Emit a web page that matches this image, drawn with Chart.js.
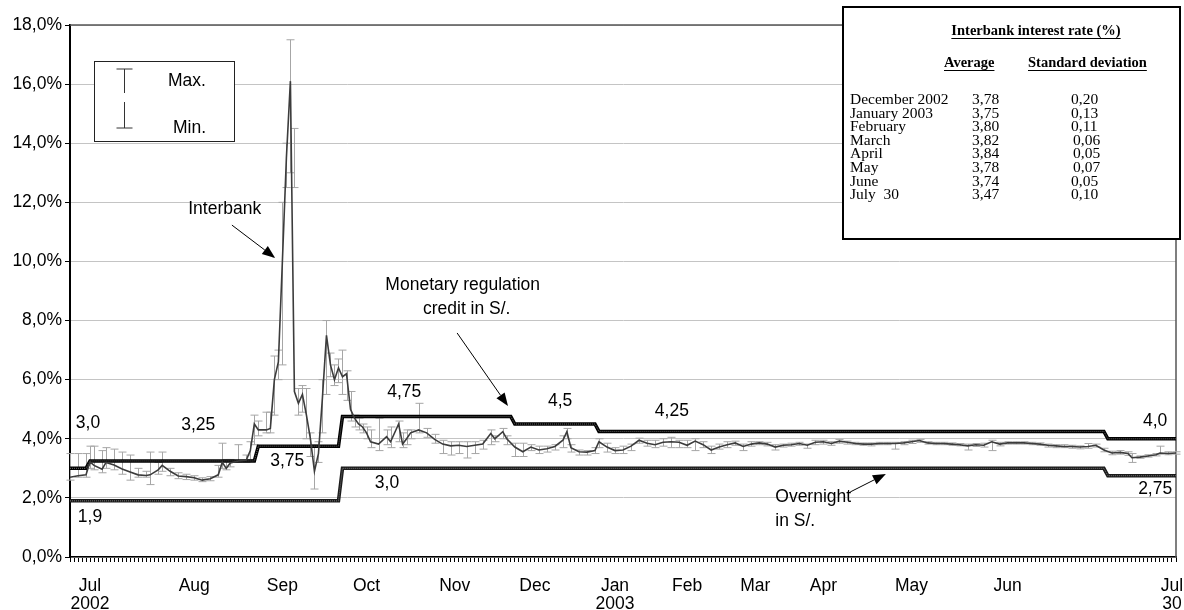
<!DOCTYPE html>
<html>
<head>
<meta charset="utf-8">
<script src="https://cdn.jsdelivr.net/npm/chart.js@4.4.0/dist/chart.umd.min.js"></script>
<style>
  html, body { margin: 0; padding: 0; background: #fff; }
</style>
</head>
<body>
<canvas id="rateChart" width="1184" height="610"></canvas>
<script>
// x axis = business-day index (0 .. lastIdx)
const lastIdx = 276;
const monthIdx = [5, 31, 53, 74, 96, 116, 136, 154, 171, 188, 210, 234, 275];
const monthLabels = [['Jul', '2002'], ['Aug'], ['Sep'], ['Oct'], ['Nov'], ['Dec'], ['Jan', '2003'], ['Feb'], ['Mar'], ['Apr'], ['May'], ['Jun'], ['Jul', '30']];
const yTicks = [0, 2, 4, 6, 8, 10, 12, 14, 16, 18];

// Interbank rate: day index, average, max, min (%)
const ibIdx = [0, 2, 4, 5, 6, 8, 9, 11, 13, 15, 17, 19, 20, 22, 23, 25, 27, 29, 31, 33, 35, 37, 38, 39, 40, 42, 44, 45, 46, 47, 49, 50,
  51, 52, 53, 54, 55, 56, 57, 58, 59, 60, 61, 62, 63, 64, 65, 66, 67, 68, 69, 70, 71, 72, 73, 74, 75, 77, 79, 80, 82, 83, 84, 85, 87, 89, 91, 93, 95, 97, 99,
  101, 103, 105, 106, 108, 109, 111, 113, 115, 117, 119, 121, 123, 124, 125, 127, 129, 131, 132, 134, 136, 138, 140, 142, 144, 146, 148, 150,
  152, 154, 156, 158, 160, 162, 164, 166, 168, 170, 172, 174, 176, 178, 180, 182, 184, 186, 188, 190, 192, 194, 196, 198, 200,
  202, 204, 206, 208, 210, 212, 214, 216, 218, 220, 222, 224, 226, 228, 230, 232, 234, 236, 238, 240, 242, 244, 246, 248, 250,
  252, 254, 256, 258, 260, 262, 264, 265, 267, 269, 271, 272, 274, 276];
const ibVal = [2.70, 2.75, 2.78, 3.22, 3.10, 2.97, 3.20, 3.11, 2.98, 2.88, 2.78, 2.76, 2.78, 2.95, 3.10, 2.90, 2.74, 2.72, 2.68, 2.60, 2.65, 2.78, 3.20, 3.00, 3.18, 3.25, 3.28, 3.60, 4.50, 4.30, 4.30, 4.35,
  6.00, 6.60, 10.0, 13.5, 16.1, 5.60, 5.20, 5.50, 4.80, 4.00, 2.90, 3.50, 5.40, 7.50, 6.50, 6.00, 6.40, 6.10, 6.20, 5.00, 4.70, 4.50, 4.40, 4.20, 3.90, 3.82, 4.07, 3.90, 4.50, 3.82, 4.00, 4.20, 4.30, 4.20, 3.98, 3.82, 3.76, 3.78, 3.74,
  3.78, 3.82, 4.18, 4.00, 4.24, 4.00, 3.72, 3.56, 3.72, 3.62, 3.66, 3.74, 3.95, 4.24, 3.70, 3.56, 3.55, 3.60, 3.90, 3.72, 3.60, 3.62, 3.75, 3.95, 3.85, 3.80, 3.88, 3.90,
  3.88, 3.78, 3.92, 3.80, 3.62, 3.72, 3.80, 3.86, 3.74, 3.82, 3.86, 3.82, 3.72, 3.78, 3.80, 3.84, 3.78, 3.88, 3.90, 3.84, 3.92, 3.88, 3.84, 3.82, 3.82,
  3.84, 3.84, 3.84, 3.86, 3.90, 3.94, 3.86, 3.84, 3.84, 3.82, 3.80, 3.76, 3.80, 3.78, 3.90, 3.82, 3.86, 3.86, 3.86, 3.84, 3.82, 3.78, 3.76, 3.74, 3.74,
  3.72, 3.74, 3.78, 3.62, 3.52, 3.54, 3.50, 3.36, 3.38, 3.42, 3.46, 3.52, 3.50, 3.52];
const ibMax = [3.50, 3.50, 3.50, 3.75, 3.75, 3.60, 3.70, 3.65, 3.55, 3.45, 3.00, 2.90, 3.55, 3.20, 3.55, 3.00, 2.85, 2.80, 2.75, 2.68, 2.72, 3.10, 3.85, 3.30, 3.30, 3.80, 3.45, 3.90, 4.80, 4.60, 4.90, 4.90,
  6.80, 7.00, 12.0, 14.0, 17.5, 14.5, 5.70, 5.80, 5.70, 4.20, 3.80, 3.90, 6.00, 8.00, 6.90, 6.50, 6.70, 7.00, 6.30, 5.60, 4.80, 4.70, 4.50, 4.40, 4.30, 4.70, 4.30, 4.40, 4.60, 4.20, 4.30, 4.30, 5.20, 4.35, 4.15, 3.95, 3.90, 3.90, 3.90,
  3.90, 3.95, 4.30, 4.10, 4.35, 4.10, 3.85, 3.85, 3.80, 3.75, 3.75, 3.80, 4.10, 4.35, 3.80, 3.62, 3.60, 3.70, 4.00, 3.85, 3.70, 3.75, 3.82, 4.02, 3.95, 3.95, 4.00, 4.05,
  3.95, 3.95, 4.00, 3.90, 3.75, 3.82, 3.90, 3.92, 3.82, 3.90, 3.90, 3.88, 3.80, 3.82, 3.85, 3.88, 3.82, 3.95, 3.95, 3.90, 3.98, 3.92, 3.88, 3.86, 3.86,
  3.88, 3.88, 3.88, 3.90, 3.95, 3.98, 3.90, 3.88, 3.88, 3.86, 3.84, 3.82, 3.84, 3.85, 3.95, 3.88, 3.90, 3.90, 3.90, 3.88, 3.86, 3.82, 3.80, 3.80, 3.78,
  3.76, 3.84, 3.82, 3.68, 3.58, 3.60, 3.56, 3.50, 3.42, 3.46, 3.50, 3.75, 3.56, 3.56];
const ibMin = [2.60, 2.70, 2.70, 3.00, 2.95, 2.85, 3.00, 2.95, 2.80, 2.60, 2.70, 2.70, 2.45, 2.80, 2.90, 2.75, 2.65, 2.62, 2.60, 2.55, 2.58, 2.70, 3.00, 2.95, 3.05, 3.20, 3.20, 3.30, 3.80, 4.10, 4.20, 4.20,
  4.80, 6.00, 6.50, 12.5, 13.0, 12.5, 4.80, 4.90, 4.00, 3.40, 2.30, 3.20, 4.20, 5.50, 6.10, 5.80, 5.90, 5.50, 5.30, 4.60, 4.40, 4.30, 4.20, 4.00, 3.70, 3.60, 3.80, 3.70, 3.90, 3.70, 3.80, 4.00, 4.20, 4.05, 3.85, 3.50, 3.45, 3.50, 3.35,
  3.50, 3.65, 3.80, 3.90, 4.00, 3.80, 3.40, 3.40, 3.60, 3.50, 3.55, 3.62, 3.70, 4.00, 3.55, 3.45, 3.45, 3.50, 3.70, 3.55, 3.50, 3.50, 3.60, 3.85, 3.75, 3.70, 3.75, 3.70,
  3.70, 3.70, 3.60, 3.70, 3.50, 3.65, 3.70, 3.78, 3.60, 3.75, 3.80, 3.76, 3.62, 3.72, 3.75, 3.78, 3.68, 3.80, 3.82, 3.78, 3.85, 3.82, 3.80, 3.78, 3.76,
  3.80, 3.80, 3.65, 3.80, 3.84, 3.88, 3.82, 3.80, 3.80, 3.78, 3.76, 3.62, 3.74, 3.72, 3.60, 3.76, 3.82, 3.82, 3.82, 3.80, 3.78, 3.72, 3.70, 3.70, 3.68,
  3.66, 3.68, 3.72, 3.56, 3.46, 3.48, 3.44, 3.20, 3.34, 3.38, 3.42, 3.48, 3.46, 3.48];

// Policy rates (step lines): start index of each level and the level (%)
const creditStart = [0, 5, 47, 68, 111, 132, 259];
const creditRate = [3.0, 3.25, 3.75, 4.75, 4.5, 4.25, 4.0];
const overnightStart = [0, 68, 259];
const overnightRate = [1.9, 3.0, 2.75];

// Summary table
const tableMonths = ['December 2002', 'January 2003', 'February', 'March', 'April', 'May', 'June', 'July  30'];
const tableAvg = ['3,78', '3,75', '3,80', '3,82', '3,84', '3,78', '3,74', '3,47'];
const tableSd = ['0,20', '0,13', '0,11', '0,06', '0,05', '0,07', '0,05', '0,10'];

const SANS = '"Liberation Sans", Arial, sans-serif';
const SERIF = '"Liberation Serif", "Times New Roman", serif';

function stepPoints(starts, rates) {
    const pts = [];
    starts.forEach((s, i) => {
        const end = i < starts.length - 1 ? starts[i + 1] - 1 : lastIdx;
        pts.push({ x: s, y: rates[i] });
        pts.push({ x: end, y: rates[i] });
    });
    return pts;
}

const creditPts = stepPoints(creditStart, creditRate);
const overnightPts = stepPoints(overnightStart, overnightRate);
const ibPts = ibIdx.map((d, i) => ({ x: d, y: ibVal[i] }));

// text labels placed in data coordinates (day index, %)
const notes = [
    { t: 'Interbank', x: 29.5, y: 11.77, align: 'left' },
    { t: 'Monetary regulation', x: 98, y: 9.2, align: 'center' },
    { t: 'credit in S/.', x: 99, y: 8.39, align: 'center' },
    { t: '3,0', x: 4.5, y: 4.53, align: 'center' },
    { t: '3,25', x: 32, y: 4.47, align: 'center' },
    { t: '1,9', x: 5, y: 1.35, align: 'center' },
    { t: '3,75', x: 54.2, y: 3.25, align: 'center' },
    { t: '4,75', x: 83.4, y: 5.58, align: 'center' },
    { t: '3,0', x: 79.1, y: 2.5, align: 'center' },
    { t: '4,5', x: 122.3, y: 5.28, align: 'center' },
    { t: '4,25', x: 150.2, y: 4.94, align: 'center' },
    { t: '4,0', x: 270.8, y: 4.6, align: 'center' },
    { t: '2,75', x: 270.8, y: 2.3, align: 'center' },
    { t: 'Overnight', x: 176, y: 2.03, align: 'left' },
    { t: 'in S/.', x: 176, y: 1.22, align: 'left' }
];
const arrows = [
    { x1: 40.4, y1: 11.23, x2: 51.2, y2: 10.12 },
    { x1: 96.6, y1: 7.58, x2: 109.3, y2: 5.11 },
    { x1: 194.7, y1: 2.2, x2: 203.6, y2: 2.81 }
];

const errorBars = {
    id: 'errorBars',
    beforeDatasetsDraw(chart) {
        const { ctx, chartArea, scales: { x, y } } = chart;
        ctx.save();
        // plot frame top / right
        ctx.strokeStyle = '#555';
        ctx.lineWidth = 1.5;
        ctx.beginPath();
        ctx.moveTo(chartArea.left, chartArea.top);
        ctx.lineTo(chartArea.right, chartArea.top);
        ctx.lineTo(chartArea.right, chartArea.bottom);
        ctx.stroke();

        ctx.strokeStyle = '#a6a6a6';
        ctx.lineWidth = 1;
        ibIdx.forEach((d, i) => {
            const px = Math.round(x.getPixelForValue(d)) + 0.5;
            const top = y.getPixelForValue(ibMax[i]);
            const bot = y.getPixelForValue(ibMin[i]);
            ctx.beginPath();
            ctx.moveTo(px, top); ctx.lineTo(px, bot);
            ctx.moveTo(px - 4, top); ctx.lineTo(px + 4, top);
            ctx.moveTo(px - 4, bot); ctx.lineTo(px + 4, bot);
            ctx.stroke();
        });
        ctx.restore();
    }
};

function drawArrow(ctx, x1, y1, x2, y2) {
    const ang = Math.atan2(y2 - y1, x2 - x1);
    const len = 13, half = 5;
    const bx = x2 - len * Math.cos(ang), by = y2 - len * Math.sin(ang);
    ctx.beginPath();
    ctx.moveTo(x1, y1);
    ctx.lineTo(bx, by);
    ctx.stroke();
    ctx.beginPath();
    ctx.moveTo(x2, y2);
    ctx.lineTo(bx + half * Math.sin(ang), by - half * Math.cos(ang));
    ctx.lineTo(bx - half * Math.sin(ang), by + half * Math.cos(ang));
    ctx.closePath();
    ctx.fill();
}

function underlined(ctx, text, x, y, align) {
    ctx.textAlign = align;
    ctx.fillText(text, x, y);
    const w = ctx.measureText(text).width;
    const x0 = align === 'center' ? x - w / 2 : x;
    ctx.fillRect(x0, y + 7, w, 1);
}

const overlay = {
    id: 'overlay',
    afterDraw(chart) {
        const { ctx, chartArea, scales: { x, y } } = chart;
        ctx.save();
        ctx.fillStyle = '#000';
        ctx.strokeStyle = '#000';
        ctx.lineWidth = 1;
        ctx.textBaseline = 'middle';
        ctx.font = '17.5px ' + SANS;
        notes.forEach(n => {
            ctx.textAlign = n.align;
            ctx.fillText(n.t, x.getPixelForValue(n.x), y.getPixelForValue(n.y));
        });
        arrows.forEach(a => drawArrow(ctx, x.getPixelForValue(a.x1), y.getPixelForValue(a.y1),
            x.getPixelForValue(a.x2), y.getPixelForValue(a.y2)));

        // Max / Min key box
        const lx = chartArea.left + 24, ty = chartArea.top + 36;
        ctx.fillStyle = '#fff';
        ctx.fillRect(lx, ty, 140, 80);
        ctx.strokeStyle = '#222';
        ctx.strokeRect(lx + 0.5, ty + 0.5, 140, 80);
        ctx.strokeStyle = '#333';
        ctx.beginPath();
        const sx = lx + 30.5;
        ctx.moveTo(sx - 8, ty + 8); ctx.lineTo(sx + 8, ty + 8);
        ctx.moveTo(sx, ty + 8); ctx.lineTo(sx, ty + 32);
        ctx.moveTo(sx, ty + 41); ctx.lineTo(sx, ty + 67);
        ctx.moveTo(sx - 8, ty + 67); ctx.lineTo(sx + 8, ty + 67);
        ctx.stroke();
        ctx.fillStyle = '#000';
        ctx.textAlign = 'left';
        ctx.fillText('Max.', lx + 74, ty + 20);
        ctx.fillText('Min.', lx + 79, ty + 67);

        // summary table
        ctx.fillStyle = '#fff';
        ctx.fillRect(843, 7, 337, 232);
        ctx.strokeStyle = '#000';
        ctx.lineWidth = 2;
        ctx.strokeRect(843, 7, 337, 232);
        ctx.fillStyle = '#000';
        ctx.font = 'bold 14.5px ' + SERIF;
        underlined(ctx, 'Interbank interest rate (%)', 1036, 31, 'center');
        underlined(ctx, 'Average', 944, 63, 'left');
        underlined(ctx, 'Standard deviation', 1028, 63, 'left');
        ctx.font = '15.5px ' + SERIF;
        tableMonths.forEach((m, i) => {
            const ry = 100 + i * 13.6;
            ctx.textAlign = 'left';
            ctx.fillText(m, 850, ry);
            ctx.fillText(tableAvg[i], 972, ry);
            ctx.fillText(tableSd[i], i >= 3 && i <= 5 ? 1073 : 1071, ry);
        });
        ctx.restore();
    }
};

new Chart(document.getElementById('rateChart'), {
    type: 'line',
    data: {
        datasets: [
            { label: 'Interbank', data: ibPts, borderColor: '#3c3c3c', borderWidth: 1.6, pointRadius: 0, tension: 0 },
            { label: 'credit texture', data: creditPts, borderColor: '#666', borderWidth: 1, borderDash: [1, 1], pointRadius: 0 },
            { label: 'Monetary regulation credit', data: creditPts, borderColor: '#000', borderWidth: 3.5, pointRadius: 0 },
            { label: 'overnight texture', data: overnightPts, borderColor: '#777', borderWidth: 1, borderDash: [1, 1], pointRadius: 0 },
            { label: 'Overnight', data: overnightPts, borderColor: '#1a1a1a', borderWidth: 3.5, pointRadius: 0 }
        ]
    },
    options: {
        responsive: false,
        animation: false,
        layout: { padding: { top: 25, right: 8, left: 0, bottom: 0 } },
        plugins: { legend: { display: false }, tooltip: { enabled: false } },
        scales: {
            x: {
                type: 'linear',
                min: 0,
                max: lastIdx,
                afterBuildTicks: s => {
                    const t = [];
                    for (let i = 0; i <= lastIdx; i++) t.push({ value: i });
                    s.ticks = t;
                },
                afterFit: s => {
                    s.height = 53;
                    s.paddingLeft = 0;
                    s.paddingRight = 0;
                },
                ticks: {
                    autoSkip: false,
                    maxRotation: 0,
                    minRotation: 0,
                    padding: 15,
                    color: '#000',
                    font: { family: SANS, size: 17.5, lineHeight: 1.05 },
                    callback: v => {
                        const k = monthIdx.indexOf(v);
                        return k >= 0 ? monthLabels[k] : '';
                    }
                },
                grid: { drawOnChartArea: false, tickLength: 5, color: '#000', lineWidth: 1 },
                border: { color: '#000', width: 1.5 }
            },
            y: {
                min: 0,
                max: 18,
                afterBuildTicks: s => { s.ticks = yTicks.map(v => ({ value: v })); },
                afterFit: s => { s.width = 70; },
                ticks: {
                    padding: 3,
                    color: '#000',
                    font: { family: SANS, size: 17.5 },
                    callback: v => v.toFixed(1).replace('.', ',') + '%'
                },
                grid: { color: '#c4c4c4', lineWidth: 1, tickLength: 5, tickColor: '#000' },
                border: { color: '#000', width: 2 }
            }
        }
    },
    plugins: [errorBars, overlay]
});
</script>
</body>
</html>
